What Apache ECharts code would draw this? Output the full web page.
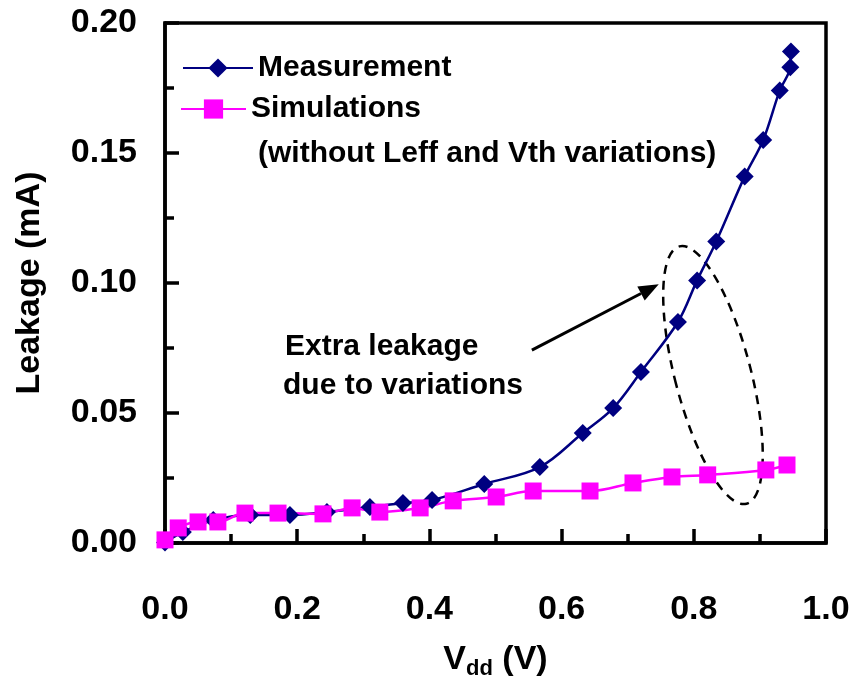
<!DOCTYPE html>
<html>
<head>
<meta charset="utf-8">
<script src="https://cdn.jsdelivr.net/npm/echarts@6/dist/echarts.min.js"></script>
<style>
  html, body { margin: 0; padding: 0; background: #fff; }
  #chart { width: 854px; height: 682px; }
</style>
</head>
<body>
<div id="chart"></div>
<script>
// Measurement (diamonds)
var measX = [0.000, 0.027, 0.073, 0.129, 0.189, 0.245, 0.310, 0.360, 0.404, 0.483, 0.567,
             0.632, 0.678, 0.720, 0.776, 0.805, 0.834, 0.877, 0.905, 0.930, 0.946, 0.947];
var measY = [0.0002, 0.0042, 0.0088, 0.0108, 0.0108, 0.0119, 0.0138, 0.0154, 0.0165, 0.0227, 0.0292,
             0.0423, 0.0519, 0.0658, 0.0850, 0.1010, 0.1160, 0.1410, 0.1550, 0.1740, 0.1830, 0.1890];
// Simulations (squares)
var simX = [0.000, 0.020, 0.050, 0.080, 0.121, 0.171, 0.239, 0.283, 0.325, 0.386,
            0.436, 0.501, 0.557, 0.643, 0.708, 0.767, 0.821, 0.909, 0.941];
var simY = [0.0012, 0.0058, 0.0081, 0.0081, 0.0115, 0.0115, 0.0112, 0.0135, 0.0119, 0.0135,
            0.0162, 0.0177, 0.0200, 0.0200, 0.0231, 0.0254, 0.0262, 0.0281, 0.0300];

var xTicks = ['0.0', '0.2', '0.4', '0.6', '0.8', '1.0'];
var yTicks = ['0.00', '0.05', '0.10', '0.15', '0.20'];

var FONT = '"Liberation Sans", Arial, sans-serif';
var chart = echarts.init(document.getElementById('chart'));

function pairs(xs, ys) {
    return xs.map(function (x, i) { return [x, ys[i]]; });
}

var legendText = { fontFamily: FONT, fontSize: 30, fontWeight: 'bold', color: '#000' };

chart.setOption({
    animation: false,
    grid: {
        left: 165, top: 23, right: 28, bottom: 139,
        show: true, borderColor: '#000', borderWidth: 3.5,
        outerBoundsMode: 'none'
    },
    legend: [{
        data: ['Measurement'],
        left: 177, top: 48,
        itemWidth: 70, itemHeight: 24,
        textStyle: legendText
    }, {
        data: ['Simulations'],
        left: 175, top: 89,
        itemWidth: 65, itemHeight: 24,
        textStyle: legendText
    }],
    xAxis: {
        type: 'value', min: 0, max: 1, interval: 0.2,
        name: '{a|V}{b|dd}{a| (V)}',
        nameLocation: 'middle', nameGap: 97,
        nameTextStyle: {
            rich: {
                a: { fontFamily: FONT, fontSize: 34, fontWeight: 'bold', color: '#000', lineHeight: 40 },
                b: { fontFamily: FONT, fontSize: 22, fontWeight: 'bold', color: '#000', lineHeight: 20, verticalAlign: 'bottom' }
            }
        },
        axisLine: { lineStyle: { color: '#000', width: 3.5 } },
        axisTick: { inside: true, length: 14, lineStyle: { color: '#000', width: 3.5 } },
        minorTick: { show: true, splitNumber: 2, length: 9, lineStyle: { color: '#000', width: 3.5 } },
        splitLine: { show: false },
        axisLabel: {
            margin: 50, fontFamily: FONT, fontSize: 34, fontWeight: 'bold', color: '#000',
            formatter: function (v) { return xTicks[Math.round(v / 0.2)]; }
        }
    },
    yAxis: {
        type: 'value', min: 0, max: 0.2, interval: 0.05,
        name: 'Leakage (mA)',
        nameLocation: 'middle', nameGap: 118,
        nameTextStyle: { fontFamily: FONT, fontSize: 34, fontWeight: 'bold', color: '#000' },
        axisLine: { lineStyle: { color: '#000', width: 3.5 } },
        axisTick: { inside: true, length: 14, lineStyle: { color: '#000', width: 3.5 } },
        minorTick: { show: true, splitNumber: 2, length: 9, lineStyle: { color: '#000', width: 3.5 } },
        splitLine: { show: false },
        axisLabel: {
            margin: 28, fontFamily: FONT, fontSize: 34, fontWeight: 'bold', color: '#000',
            formatter: function (v) { return yTicks[Math.round(v / 0.05)]; }
        }
    },
    series: [{
        name: 'Measurement',
        type: 'line',
        data: pairs(measX, measY),
        smooth: 0.35,
        symbol: 'diamond', symbolSize: 18,
        itemStyle: { color: '#000080' },
        lineStyle: { color: '#000080', width: 2.5 }
    }, {
        name: 'Simulations',
        type: 'line',
        data: pairs(simX, simY),
        smooth: 0.35,
        symbol: 'rect', symbolSize: 17,
        itemStyle: { color: '#ff00ff' },
        lineStyle: { color: '#ff00ff', width: 2.5 }
    }]
});

// annotations placed in data coordinates
function px(x, y) { return chart.convertToPixel({ gridIndex: 0 }, [x, y]); }
var tail = px(0.555, 0.0742), head = px(0.747, 0.0995);
var ang = Math.atan2(head[1] - tail[1], head[0] - tail[0]);
var aL = 20, aW = 8;
var base = [head[0] - aL * Math.cos(ang), head[1] - aL * Math.sin(ang)];
var ec = px(0.829, 0.0646);
var t1 = px(0.1815, 0.0754), t2 = px(0.1785, 0.0604);

chart.setOption({
    graphic: [
        { type: 'line', shape: { x1: tail[0], y1: tail[1], x2: base[0], y2: base[1] },
          style: { stroke: '#000', lineWidth: 3 } },
        { type: 'polygon', shape: { points: [
            head,
            [base[0] + aW * Math.sin(ang), base[1] - aW * Math.cos(ang)],
            [base[0] - aW * Math.sin(ang), base[1] + aW * Math.cos(ang)]
          ] }, style: { fill: '#000' } },
        { type: 'ellipse', x: ec[0], y: ec[1], rotation: 0.255,
          shape: { cx: 0, cy: 0, rx: 38, ry: 133 },
          style: { fill: null, stroke: '#000', lineWidth: 2.5, lineDash: [9, 7] } },
        { type: 'text', x: t1[0], y: t1[1],
          style: { text: 'Extra leakage', fill: '#000', font: 'bold 30px ' + FONT, verticalAlign: 'middle' } },
        { type: 'text', x: t2[0], y: t2[1],
          style: { text: 'due to variations', fill: '#000', font: 'bold 30px ' + FONT, verticalAlign: 'middle' } },
        { type: 'text', x: 258, y: 154,
          style: { text: '(without Leff and Vth variations)', fill: '#000', font: 'bold 30px ' + FONT, verticalAlign: 'middle' } }
    ]
});
</script>
</body>
</html>
